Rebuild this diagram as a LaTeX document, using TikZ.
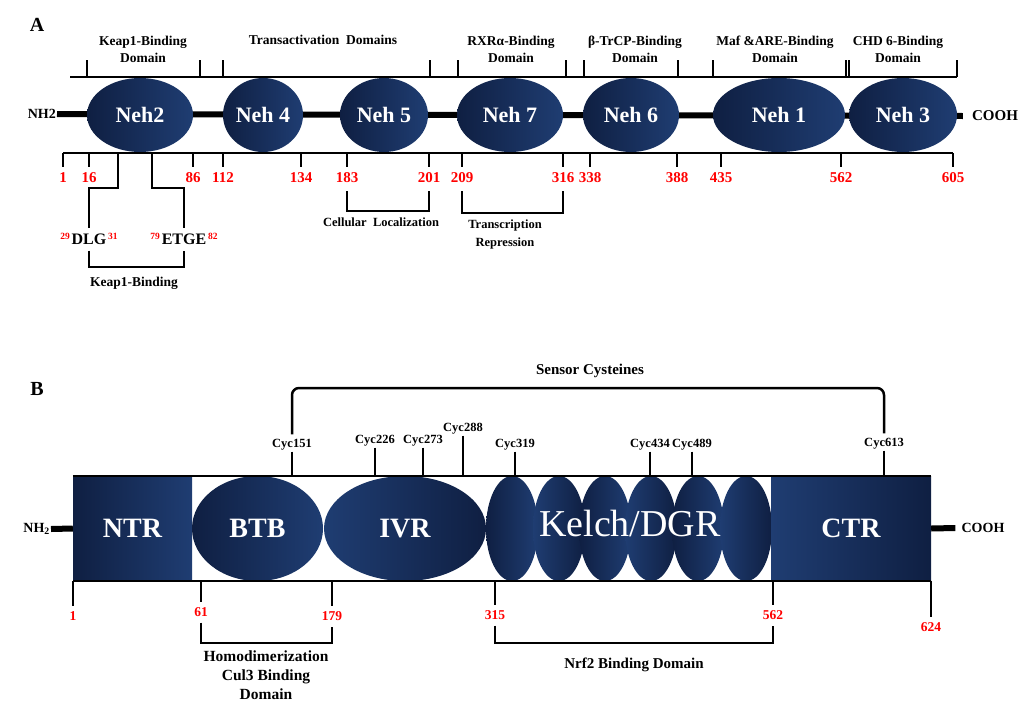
\documentclass[tikz,border=0pt]{standalone}
\usepackage{fontspec}
\setmainfont{Liberation Serif}
\usepackage{xcolor}
\usepackage{tikz}
\usetikzlibrary{positioning, calc, shapes.geometric}
\definecolor{navyL}{HTML}{1F3D72}
\definecolor{navyD}{HTML}{0F1F42}

\begin{document}
\begin{tikzpicture}[x=1pt, y=-1pt,
        every node/.style={inner sep=1pt, font=\bfseries},
        neh/.style={ellipse, inner sep=0pt, left color=navyD, right color=navyL,
          text=white, minimum height=74pt, font=\fontsize{22}{22}\selectfont\bfseries},
        dom/.style={ellipse, inner sep=0pt, minimum height=105pt, text=white,
          left color=navyD, right color=navyL, font=\fontsize{28}{28}\selectfont\bfseries},
        blade/.style={ellipse, inner sep=0pt, minimum height=105pt, minimum width=52pt},
        term/.style={rectangle, inner sep=0pt, minimum height=105pt, text=white,
          font=\fontsize{28}{28}\selectfont\bfseries},
        bline/.style={line width=2.5pt},
        bb/.style={line width=6pt},
        lbl/.style={align=center, font=\fontsize{13.5}{17}\selectfont\bfseries},
        lblb/.style={align=center, font=\fontsize{15.5}{19}\selectfont\bfseries},
        num/.style={text=red, font=\fontsize{15}{15}\selectfont\bfseries},
        numb/.style={text=red, font=\fontsize{13.5}{13.5}\selectfont\bfseries},
        supn/.style={text=red, inner sep=0.5pt, font=\fontsize{9.5}{9.5}\selectfont\bfseries},
        cyc/.style={font=\fontsize{12.5}{12.5}\selectfont\bfseries}]
      \useasboundingbox (0,0) rectangle (1022,704);

      % ---------- A: Nrf2 ----------
      \node[font=\fontsize{20}{20}\selectfont\bfseries] (pa) at (37,25) {A};
      \node[anchor=east, font=\fontsize{14}{14}\selectfont\bfseries] (nh) at (57,114) {NH2};
      \node[font=\fontsize{15}{15}\selectfont\bfseries] (cooh) at (995,116) {COOH};
      \draw[bb] (nh.east) -- ([xshift=-8pt]cooh.west);

      \node[neh, minimum width=106pt] (neh2) at (140,115) {Neh2};
      \node[neh, minimum width=80pt] (neh4) at (263,115) {Neh 4};
      \node[neh, minimum width=88pt] (neh5) at (384,115) {Neh 5};
      \node[neh, minimum width=106pt] (neh7) at (510,115) {Neh 7};
      \node[neh, minimum width=96pt] (neh6) at (631,115) {Neh 6};
      \node[neh, minimum width=132pt] (neh1) at (779,115) {Neh 1};
      \node[neh, minimum width=108pt] (neh3) at (903,115) {Neh 3};

      % domain brackets on top
      \draw[bline] (70,77) -- (957,77);
      \foreach \a/\b in {87/200, 223/430, 458/566, 584/678, 713/846, 849/957}
        \draw[bline] (\a,60) -- (\a,77) (\b,60) -- (\b,77);
      \node[lbl] (tkeap) at (143,49) {Keap1-Binding\\Domain};
      \node[lbl] (ttrans) at (323,40) {Transactivation\ \ Domains};
      \node[lbl] (trxr) at (511,49) {RXRα-Binding\\Domain};
      \node[lbl] (ttrcp) at (635,49) {β-TrCP-Binding\\Domain};
      \node[lbl] (tmaf) at (775,49) {Maf \&ARE-Binding\\Domain};
      \node[lbl] (tchd) at (898,49) {CHD 6-Binding\\Domain};

      % residue scale
      \draw[bline] (63,153) -- (953,153);
      \foreach \x/\n in {63/1, 89/16, 193/86, 223/112, 301/134, 347/183, 429/201,
          462/209, 563/316, 590/338, 677/388, 721/435, 841/562, 953/605} {
        \draw[bline] (\x,153) -- (\x,167);
        \node[num] (p\n) at (\x,178) {\n};
      }

      % Neh2 motifs
      \node[font=\fontsize{16}{16}\selectfont\bfseries] (dlg) at (89,239) {DLG};
      \node[font=\fontsize{16}{16}\selectfont\bfseries] (etge) at (184,239) {ETGE};
      \node[supn, anchor=north east] at (dlg.north west) {29};
      \node[supn, anchor=north west] at (dlg.north east) {31};
      \node[supn, anchor=north east] at (etge.north west) {79};
      \node[supn, anchor=north west] at (etge.north east) {82};
      \draw[bline] (118,153) -- (118,188) -| ([yshift=4pt]dlg.north);
      \draw[bline] (152,153) -- (152,188) -| ([yshift=4pt]etge.north);
      \draw[bline] ([yshift=-5pt]dlg.south) |- (134,267) -| ([yshift=-5pt]etge.south);
      \node[lbl] (tkeapb) at (134,283) {Keap1-Binding};

      \draw[bline] ([yshift=-7pt]p183.south) |- (388,211) -| ([yshift=-7pt]p201.south);
      \node[lbl, font=\fontsize{12.5}{12.5}\selectfont\bfseries] (tcell) at (381,222) {Cellular\ \ Localization};
      \draw[bline] ([yshift=-7pt]p209.south) |- (512,213) -| ([yshift=-7pt]p316.south);
      \node[lbl, font=\fontsize{12.5}{18}\selectfont\bfseries] (trep) at (505,234) {Transcription\\Repression};

      % ---------- B: Keap1 ----------
      \node[font=\fontsize{20}{20}\selectfont\bfseries] (pb) at (37,389) {B};

      \node[term, minimum width=119pt, left color=navyD, right color=navyL] (ntr) at (132.5,528.5) {NTR};
      \node[dom, minimum width=131pt] (btb) at (257.5,528.5) {BTB};
      \node[dom, minimum width=162pt, left color=navyL, right color=navyD] (ivr) at (405,528.5) {IVR};
      \foreach \x/\c/\d [count=\i] in {512/navyD/navyL, 559/navyL/navyD, 605/navyD/navyL,
          651/navyL/navyD, 698/navyD/navyL, 746/navyL/navyD}
        \node[blade, left color=\c, right color=\d] (k\i) at (\x,528.5) {};
      \node[text=white, font=\fontsize{38}{38}\selectfont\mdseries] (kelch) at (630,523) {Kelch/DGR};
      \node[term, minimum width=160pt, left color=navyL, right color=navyD] (ctr) at (851,528.5) {CTR};
      \draw[bline] (ntr.north west) -- (ctr.north east);
      \draw[bline] (ntr.south west) -- (ctr.south east);

      \node[anchor=east, font=\fontsize{14}{14}\selectfont\bfseries] (nhb) at (51,529) {NH\textsubscript{2}};
      \draw[bb] (nhb.east) -- (ntr.west);
      \node[font=\fontsize{14}{14}\selectfont\bfseries] (coohb) at (983,528) {COOH};
      \draw[bb] (ctr.east) -- ([xshift=-5pt]coohb.west);

      % sensor cysteines
      \foreach \x/\y/\n in {292/445/151, 375/441/226, 423/441/273, 463/429/288,
          515/445/319, 650/445/434, 692/445/489, 884/444/613} {
        \node[cyc] (c\n) at (\x,\y) {Cyc\n};
        \draw[bline] (c\n.south) -- (\x,476);
      }
      \draw[bline, rounded corners=7pt] ([yshift=4pt]c151.north) |- (590,388) -| ([yshift=4pt]c613.north);
      \node[lblb, font=\fontsize{15}{15}\selectfont\bfseries] (tsens) at (590,371) {Sensor Cysteines};

      % residue ticks
      \foreach \x/\y/\n in {73/616/1, 201/612/61, 332/616/179, 495/615/315, 773/615/562, 931/627/624} {
        \node[numb] (b\n) at (\x,\y) {\n};
        \draw[bline] (\x,581) -- ([yshift=4pt]b\n.north);
      }
      \draw[bline] ([yshift=-5pt]b61.south) |- (266,643) -| ([yshift=-5pt]b179.south);
      \node[lblb] (thomo) at (266,675) {Homodimerization\\Cul3 Binding\\Domain};
      \draw[bline] ([yshift=-5pt]b315.south) |- (634,643) -| ([yshift=-5pt]b562.south);
      \node[lblb, font=\fontsize{15}{15}\selectfont\bfseries] (tnrf) at (634,665) {Nrf2 Binding Domain};
    \end{tikzpicture}
\end{document}
